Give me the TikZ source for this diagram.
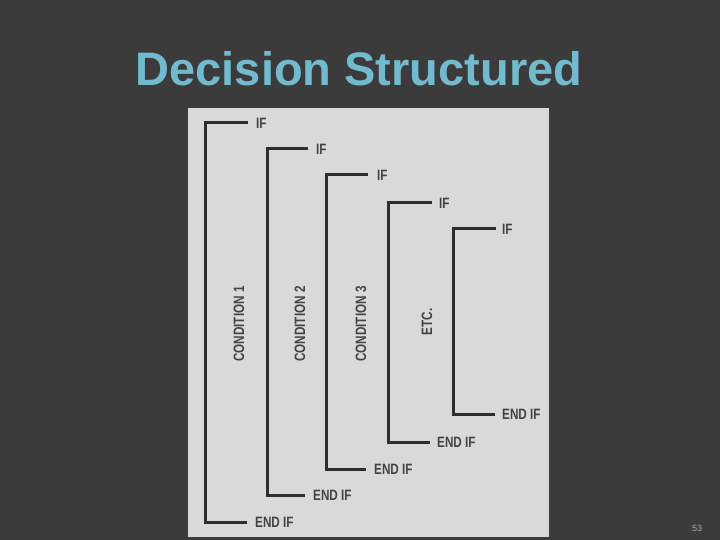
\documentclass[tikz,border=0pt]{standalone}
\usepackage{fontspec}
\setmainfont{Liberation Sans}
\newfontfamily\condfont[FakeStretch=0.78]{Liberation Sans}
\definecolor{slidebg}{HTML}{3B3B3B}
\definecolor{paper}{HTML}{D9D9D9}
\definecolor{ink}{HTML}{2E2E2E}
\definecolor{titleblue}{HTML}{72BACE}
\tikzset{
  bracket/.style={draw=ink, line width=3pt, line join=miter},
  kw/.style={font=\condfont\bfseries\fontsize{15}{15}\selectfont, text=ink!90, anchor=west, inner sep=0pt},
  cond/.style={font=\condfont\bfseries\fontsize{15}{15}\selectfont, text=ink!90, rotate=90, inner sep=0pt},
}
\begin{document}
\begin{tikzpicture}[x=1pt,y=-1pt]
\fill[slidebg] (0,0) rectangle (720,540);
\useasboundingbox (0,0) rectangle (720,540);
% title
\node[font=\bfseries\fontsize{47}{47}\selectfont, text=titleblue, inner sep=0pt] (title) at (359,69) {Decision Structured};
% panel
\fill[paper] (188,108) rectangle (549,537);
% corner coordinates
\coordinate (t1) at (248,123); \coordinate (b1) at (247,522);
\coordinate (t2) at (308,149); \coordinate (b2) at (305,495);
\coordinate (t3) at (368,175); \coordinate (b3) at (366,469);
\coordinate (t4) at (432,203); \coordinate (b4) at (430,442);
\coordinate (t5) at (496,229); \coordinate (b5) at (495,414);
\draw[bracket] (t1) -- (205,123) -- (205,522) -- (b1);
\draw[bracket] (t2) -- (267,149) -- (267,495) -- (b2);
\draw[bracket] (t3) -- (326,175) -- (326,469) -- (b3);
\draw[bracket] (t4) -- (388,203) -- (388,442) -- (b4);
\draw[bracket] (t5) -- (453,229) -- (453,414) -- (b5);
% keywords
\node[kw] (if1) at (256,123) {IF};
\node[kw] (if2) at (316,149) {IF};
\node[kw] (if3) at (377,175) {IF};
\node[kw] (if4) at (439,203) {IF};
\node[kw] (if5) at (502,229) {IF};
\node[kw] (e1) at (255,522) {END IF};
\node[kw] (e2) at (313,495) {END IF};
\node[kw] (e3) at (374,469) {END IF};
\node[kw] (e4) at (437,442) {END IF};
\node[kw] (e5) at (502,414) {END IF};
% condition labels
\node[cond] (c1) at (239,324) {CONDITION 1};
\node[cond] (c2) at (300,324) {CONDITION 2};
\node[cond] (c3) at (361,324) {CONDITION 3};
\node[cond] (c4) at (427,322) {ETC.};
% slide number
\node[font=\fontsize{9}{9}\selectfont, text=gray!70, inner sep=0pt] (num) at (697,528) {53};
\end{tikzpicture}
\end{document}
